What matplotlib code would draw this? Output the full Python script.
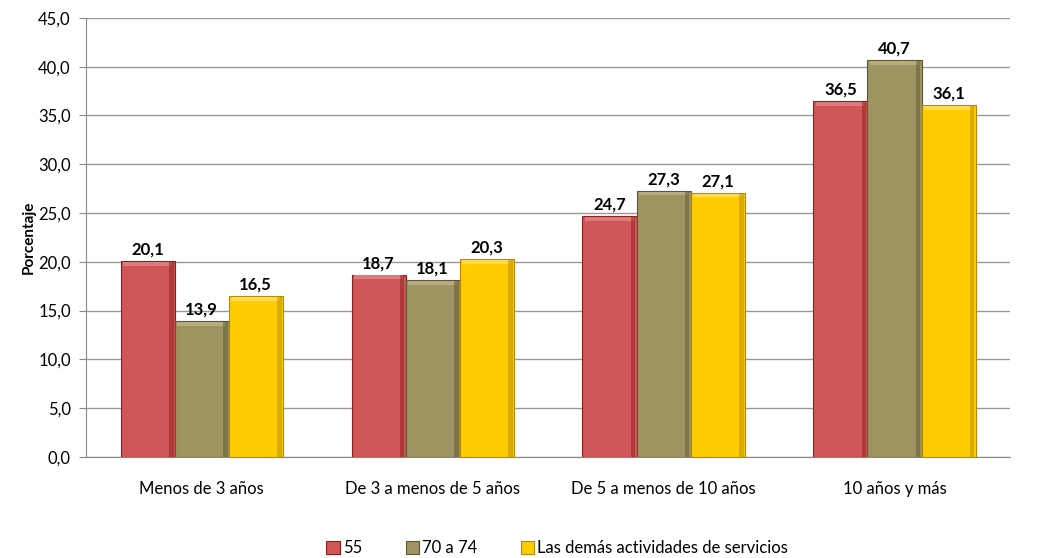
import numpy as np
import matplotlib
matplotlib.use('Agg')
from matplotlib import pyplot as plt

plt.rcParams['font.family'] = ['Lato', 'DejaVu Sans']

categories = ['Menos de 3 años', 'De 3 a menos de 5 años',
              'De 5 a menos de 10 años', '10 años y más']
series_names = ['55', '70 a 74', 'Las demás actividades de servicios']
val_55 = [20.1, 18.7, 24.7, 36.5]
val_70 = [13.9, 18.1, 27.3, 40.7]
val_demas = [16.5, 20.3, 27.1, 36.1]
y_ticks = np.arange(0, 45.1, 5)

colors = ['#CF5757', '#9E9461', '#FFCC00']
edges = ['#8E1E1E', '#5E5630', '#B58A00']
lights = ['#DC7C7C', '#B6AD7E', '#FFDB4D']

fig = plt.figure(figsize=(10.38, 5.58), dpi=100)
ax = fig.add_axes([0.083, 0.181, 0.890, 0.787])

x = np.arange(len(categories))
w = 0.234
for i, (vals, name) in enumerate(zip([val_55, val_70, val_demas], series_names)):
    pos = x + (i - 1) * w
    ax.bar(pos, vals, w, color=colors[i], edgecolor=edges[i], linewidth=0.8,
           label=name, zorder=3)
    # bevel hint: lighter top strip and darker right strip
    ax.bar(pos, [0.4] * len(vals), w * 0.9, bottom=np.array(vals) - 0.5,
           color=lights[i], linewidth=0, zorder=4)
    ax.bar(pos + w * 0.44, vals, w * 0.08, color=edges[i], alpha=0.5,
           linewidth=0, zorder=4)
    for px, v in zip(pos, vals):
        ax.text(px, v + 0.35, ('%.1f' % v).replace('.', ','), ha='center',
                va='bottom', fontsize=12, fontweight='bold', zorder=5)

ax.set_xlim(-0.5, len(categories) - 0.5)
ax.set_ylim(0, 45)
ax.set_yticks(y_ticks)
ax.set_yticklabels([('%.1f' % t).replace('.', ',') for t in y_ticks], fontsize=12)
ax.set_xticks(x)
ax.set_xticklabels(categories, fontsize=12)
ax.tick_params(axis='x', length=0, pad=17)
ax.tick_params(axis='y', length=5, color='#888888', pad=6)
ax.set_ylabel('Porcentaje', fontsize=11, fontweight='bold', labelpad=2)
ax.yaxis.grid(True, color='#999999', linewidth=1.0, zorder=0)
ax.set_axisbelow(True)
for s in ['top', 'right']:
    ax.spines[s].set_visible(False)
ax.spines['left'].set_color('#888888')
ax.spines['bottom'].set_color('#888888')

ax.legend(loc='upper center', bbox_to_anchor=(0.51, -0.155), ncol=3,
          frameon=False, fontsize=12, handlelength=0.8, handleheight=0.8,
          handletextpad=0.2, columnspacing=2.6)

fig.savefig('out.png', dpi=100)
